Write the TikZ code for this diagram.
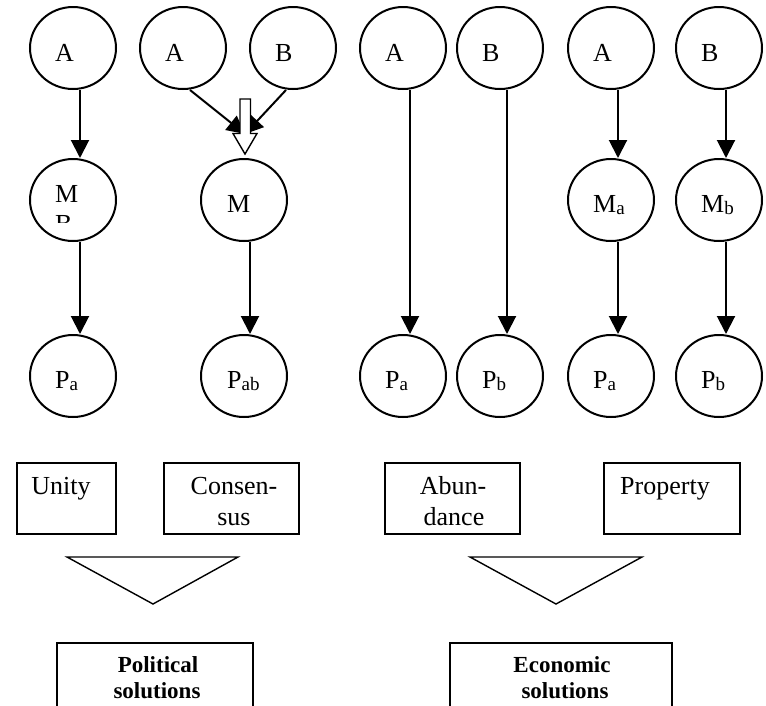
\documentclass[tikz,border=0pt]{standalone}
\usepackage{fontspec}
\setmainfont{Liberation Serif}
\usetikzlibrary{arrows.meta,shapes.geometric}
\newcommand{\lowsub}[1]{\raisebox{-2pt}{\fontsize{19}{19}\selectfont #1}}

\begin{document}
\begin{tikzpicture}[x=1pt,y=-1pt,
  circ/.style={draw, ellipse, line width=2pt, minimum width=86pt, minimum height=82pt, inner sep=0pt},
  lbl/.style={anchor=base west, inner sep=0pt, font=\fontsize{26}{31}\selectfont},
  ctext/.style={anchor=base, inner sep=0pt, font=\fontsize{26}{31}\selectfont},
  btext/.style={anchor=base, inner sep=0pt, font=\fontsize{23}{26}\selectfont\bfseries},
  box/.style={draw, rectangle, line width=1.8pt, inner sep=0pt},
  arr/.style={line width=2pt, -{Triangle[width=18pt,length=18pt]}},
  funnel/.style={draw, line width=1.4pt, line join=miter},
  hollow/.style={draw, fill=white, line width=1.4pt, line join=miter}]

\useasboundingbox (0,0) rectangle (766,705);
\clip (0,0) rectangle (766,705);
\fill[white] (0,0) rectangle (766,705);

% ---- top row: actors ----
\node[circ] (a1) at (73,48) {};
\node[circ] (a2) at (183,48) {};
\node[circ] (b2) at (293,48) {};
\node[circ] (a3) at (403,48) {};
\node[circ] (b3) at (500,48) {};
\node[circ] (a4) at (611,48) {};
\node[circ] (b4) at (719,48) {};
\node[lbl] (ta1) at (55,61) {A};
\node[lbl] (ta2) at (165,61) {A};
\node[lbl] (tb2) at (275,61) {B};
\node[lbl] (ta3) at (385,61) {A};
\node[lbl] (tb3) at (482,61) {B};
\node[lbl] (ta4) at (593,61) {A};
\node[lbl] (tb4) at (701,61) {B};

% ---- middle row: means ----
\node[circ] (m1) at (73,200) {};
\node[circ] (m2) at (244,200) {};
\node[circ] (m4a) at (611,200) {};
\node[circ] (m4b) at (719,200) {};
\node[lbl] (tm1) at (55,202) {M};
\begin{scope}
  \clip (30,150) rectangle (116,222);
  \node[lbl] (tm1b) at (55,232) {B};
\end{scope}
\node[lbl] (tm2) at (227,212) {M};
\node[lbl] (tm4a) at (593,212) {M\lowsub{a}};
\node[lbl] (tm4b) at (701,212) {M\lowsub{b}};

% ---- bottom row: payoffs ----
\node[circ] (p1) at (73,376) {};
\node[circ] (p2) at (244,376) {};
\node[circ] (p3a) at (403,376) {};
\node[circ] (p3b) at (500,376) {};
\node[circ] (p4a) at (611,376) {};
\node[circ] (p4b) at (719,376) {};
\node[lbl] (tp1) at (55,388) {P\lowsub{a}};
\node[lbl] (tp2) at (227,388) {P\lowsub{ab}};
\node[lbl] (tp3a) at (385,388) {P\lowsub{a}};
\node[lbl] (tp3b) at (482,388) {P\lowsub{b}};
\node[lbl] (tp4a) at (593,388) {P\lowsub{a}};
\node[lbl] (tp4b) at (701,388) {P\lowsub{b}};

% ---- connectors ----
\draw[arr] ([xshift=7pt]a1.south) -- ([xshift=7pt]m1.north);
\draw[arr] ([xshift=7pt]m1.south) -- ([xshift=7pt]p1.north);

\coordinate (m2in) at (245,134);
\draw[arr] ([xshift=7pt]a2.south) -- (m2in);
\draw[arr] ([xshift=-7pt]b2.south) -- (m2in);
\draw[arr] ([xshift=6pt]m2.south) -- ([xshift=6pt]p2.north);

\draw[arr] ([xshift=7pt]a3.south) -- ([xshift=7pt]p3a.north);
\draw[arr] ([xshift=7pt]b3.south) -- ([xshift=7pt]p3b.north);

\draw[arr] ([xshift=7pt]a4.south) -- ([xshift=7pt]m4a.north);
\draw[arr] ([xshift=7pt]m4a.south) -- ([xshift=7pt]p4a.north);
\draw[arr] ([xshift=7pt]b4.south) -- ([xshift=7pt]m4b.north);
\draw[arr] ([xshift=7pt]m4b.south) -- ([xshift=7pt]p4b.north);

% hollow block arrow merging into the common means
\draw[hollow] (240,99) -- (250.5,99) -- (250.5,133.5) -- (257,133.5) -- (245,154)
  -- (233,133.5) -- (240,133.5) -- cycle;

% ---- solution boxes ----
\node[box, minimum width=99pt, minimum height=71pt] (unity) at (66.5,498.5) {};
\node[box, minimum width=135pt, minimum height=71pt] (cons) at (231.5,498.5) {};
\node[box, minimum width=135pt, minimum height=71pt] (abun) at (452.5,498.5) {};
\node[box, minimum width=136pt, minimum height=71pt] (prop) at (672,498.5) {};
\node[ctext] (tunity) at (61,494) {Unity};
\node[ctext] (tcons1) at (234,494) {Consen-};
\node[ctext] (tcons2) at (234,525) {sus};
\node[ctext] (tabun1) at (453,494) {Abun-};
\node[ctext] (tabun2) at (454,525) {dance};
\node[ctext] (tprop) at (665,494) {Property};

% ---- funnels ----
\draw[funnel] (67,557) -- (238,557) -- (153,604) -- cycle;
\draw[funnel] (470,557) -- (642,557) -- (556,604) -- cycle;

% ---- result boxes ----
\node[box, minimum width=196pt, minimum height=90pt] (pol) at (155,688) {};
\node[box, minimum width=222pt, minimum height=90pt] (eco) at (561,688) {};
\node[btext] (tpol1) at (158,672) {Political};
\node[btext] (tpol2) at (157,698) {solutions};
\node[btext] (teco1) at (562,672) {Economic};
\node[btext] (teco2) at (565,698) {solutions};
\end{tikzpicture}
\end{document}
